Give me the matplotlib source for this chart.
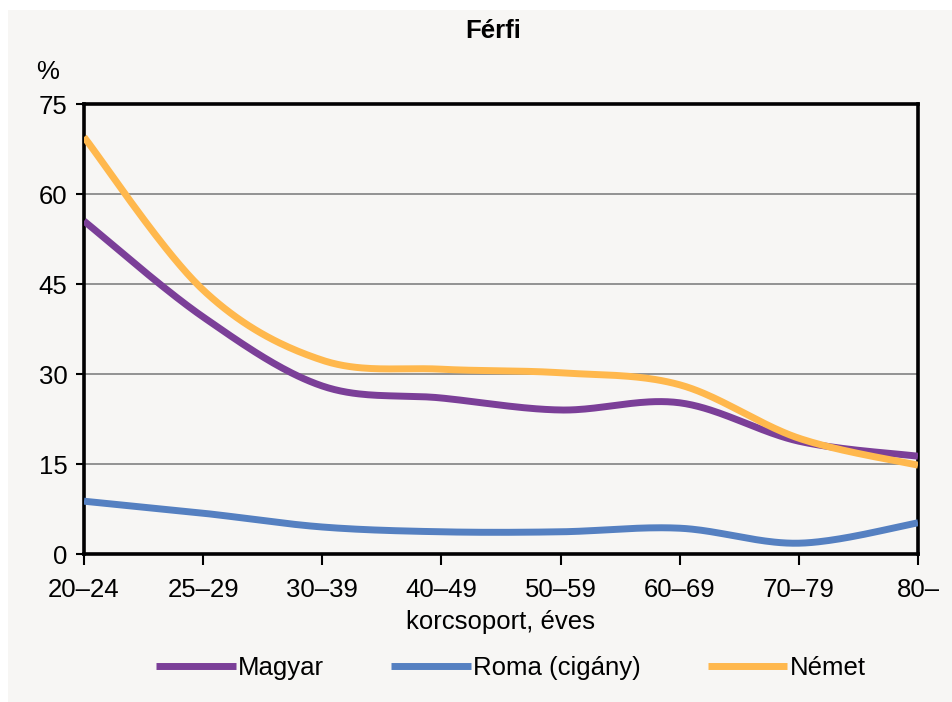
import numpy as np
import matplotlib
matplotlib.use('Agg')
import matplotlib.pyplot as plt
from matplotlib.patches import Rectangle

plt.rcParams['font.family'] = ['Liberation Sans Narrow', 'Liberation Sans', 'DejaVu Sans']

# data
age_groups = ['20–24', '25–29', '30–39', '40–49', '50–59', '60–69', '70–79', '80–']
magyar = [55.5, 39.5, 28.0, 26.0, 24.0, 25.2, 18.8, 16.3]
roma = [8.8, 6.8, 4.5, 3.7, 3.7, 4.3, 1.8, 5.2]
nemet = [69.5, 44.0, 32.3, 30.8, 30.2, 28.2, 19.3, 14.8]

series = [('Magyar', magyar, '#7b3f98'),
          ('Roma (cigány)', roma, '#5580c1'),
          ('Német', nemet, '#ffb84d')]

bg = '#f7f6f4'
fs = 18.5


def smooth(x, y, n=40):
    # Excel-style smoothed line (Catmull-Rom as cubic Bezier segments)
    pts = np.column_stack([x, y]).astype(float)
    P = np.vstack([pts[0], pts, pts[-1]])
    t = np.linspace(0, 1, n)[:, None]
    out = []
    for i in range(len(pts) - 1):
        p0, p1, p2, p3 = P[i], P[i + 1], P[i + 2], P[i + 3]
        c1 = p1 + (p2 - p0) / 6
        c2 = p2 - (p3 - p1) / 6
        seg = ((1 - t) ** 3) * p1 + 3 * ((1 - t) ** 2) * t * c1 + 3 * (1 - t) * t ** 2 * c2 + t ** 3 * p2
        out.append(seg if i == 0 else seg[1:])
    seg = np.vstack(out)
    return seg[:, 0], seg[:, 1]


fig = plt.figure(figsize=(9.52, 7.02), dpi=100, facecolor='white')
fig.patches.append(Rectangle((8 / 952, 0), 1, 1 - 10 / 702, transform=fig.transFigure,
                             facecolor=bg, edgecolor='none', zorder=-10))
ax = fig.add_axes([84 / 952, 148 / 702, 834 / 952, 450 / 702])
ax.set_facecolor(bg)

x = np.arange(len(age_groups))
for name, vals, col in series:
    xs, ys = smooth(x, vals)
    ax.plot(xs, ys, color=col, lw=5, label=name, solid_capstyle='butt', zorder=3)

ax.set_xlim(0, len(age_groups) - 1)
ax.set_ylim(0, 75)
ax.set_yticks([0, 15, 30, 45, 60, 75])
ax.set_xticks(x)
ax.set_xticklabels(age_groups)
ax.yaxis.grid(True, color='#8a8a8a', lw=1.3)
ax.set_axisbelow(True)
for s in ax.spines.values():
    s.set_linewidth(2.6)
    s.set_color('black')
ax.tick_params(axis='both', direction='out', width=1.5, labelsize=fs, colors='black')
ax.tick_params(axis='x', length=8, pad=9)
ax.tick_params(axis='y', length=6, pad=6)

ax.set_xlabel('korcsoport, éves', fontsize=fs, labelpad=6)
fig.text(48 / 952, 1 - 72 / 702, '%', fontsize=fs, ha='center', va='center')
fig.text(493 / 952, 1 - 31 / 702, 'Férfi', fontsize=fs, fontweight='bold', ha='center', va='center')

fig.legend(loc='center', bbox_to_anchor=(511 / 952, 1 - 668 / 702), ncol=3, frameon=False,
           fontsize=fs, handlelength=3.1, handletextpad=0.1, columnspacing=2.6)

plt.savefig('out.png', dpi=100, facecolor=fig.get_facecolor())
